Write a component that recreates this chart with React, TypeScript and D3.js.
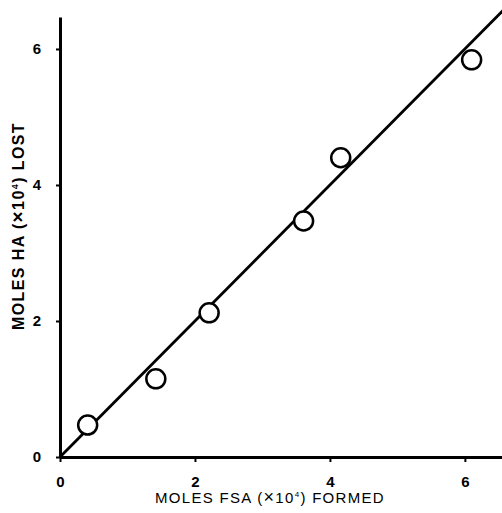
import {useEffect, useRef} from "react";
import * as d3 from "d3";

// data
const formedFSA = [0.41, 1.42, 2.21, 3.61, 4.16, 6.1];
const lostHA = [0.47, 1.15, 2.12, 3.47, 4.4, 5.84];
const tickValues = [0, 2, 4, 6];
const fitX = [0, 6.6]; // fitted line, slope 1 through origin
const fitSlope = 1;

const width = 502;
const height = 513;

export default function App() {
  const svgRef = useRef<SVGSVGElement>(null);

  useEffect(() => {
    if (!svgRef.current) return;
    const svg = d3.select(svgRef.current);
    svg.selectAll("*").remove();

    const x = d3.scaleLinear().domain([0, 6.55]).range([60, 502]);
    const y = d3.scaleLinear().domain([0, 6.47]).range([457, 17]);

    const font = "'Liberation Sans', Arial, sans-serif";

    // axes
    const xAxis = svg
      .append("g")
      .attr("transform", `translate(0,${y(0)})`)
      .call(
        d3.axisBottom(x).tickValues(tickValues).tickFormat(d3.format("d")).tickSize(5).tickSizeOuter(0).tickPadding(14),
      );
    const yAxis = svg
      .append("g")
      .attr("transform", `translate(${x(0)},0)`)
      .call(
        d3.axisLeft(y).tickValues(tickValues).tickFormat(d3.format("d")).tickSize(4).tickSizeOuter(0).tickPadding(15),
      );

    [xAxis, yAxis].forEach((g) => {
      g.select(".domain").attr("stroke", "#000").attr("stroke-width", 3);
      g.selectAll(".tick line").attr("stroke", "#000").attr("stroke-width", 2);
      g.selectAll(".tick text")
        .attr("fill", "#000")
        .style("font-family", font)
        .style("font-size", "15px")
        .style("font-weight", "bold");
    });

    // fitted line
    const line = d3
      .line<number>()
      .x((d) => x(d))
      .y((d) => y(d * fitSlope));
    svg
      .append("path")
      .attr("d", line(fitX))
      .attr("fill", "none")
      .attr("stroke", "#000")
      .attr("stroke-width", 2.8);

    // points
    svg
      .selectAll(".pt")
      .data(formedFSA.map((v, i) => [v, lostHA[i]]))
      .enter()
      .append("circle")
      .attr("cx", (d) => x(d[0]))
      .attr("cy", (d) => y(d[1]))
      .attr("r", 9.5)
      .attr("fill", "#fff")
      .attr("stroke", "#000")
      .attr("stroke-width", 2.5);

    // axis titles
    const xt = svg
      .append("text")
      .attr("x", 270)
      .attr("y", 503)
      .attr("text-anchor", "middle")
      .style("font-family", font)
      .style("font-size", "15px")
      .style("letter-spacing", "1.3px")
      .text("MOLES FSA (");
    xt.append("tspan").style("font-size", "18px").text("×");
    xt.append("tspan").text("10");
    xt.append("tspan").attr("dy", -6).style("font-size", "8px").text("4");
    xt.append("tspan").attr("dy", 6).text(") FORMED");

    const yt = svg
      .append("text")
      .attr("transform", `translate(24,226) rotate(-90)`)
      .attr("text-anchor", "middle")
      .style("font-family", font)
      .style("font-size", "16px")
      .style("font-weight", "bold")
      .style("letter-spacing", "1.4px")
      .text("MOLES HA (");
    yt.append("tspan").style("font-size", "19px").text("×");
    yt.append("tspan").text("10");
    yt.append("tspan").attr("dy", -6).style("font-size", "9px").text("4");
    yt.append("tspan").attr("dy", 6).text(") LOST");
  }, []);

  return (
    <svg
      ref={svgRef}
      width={width}
      height={height}
      style={{position: "absolute", left: 0, top: 0, background: "#fff"}}
    />
  );
}
